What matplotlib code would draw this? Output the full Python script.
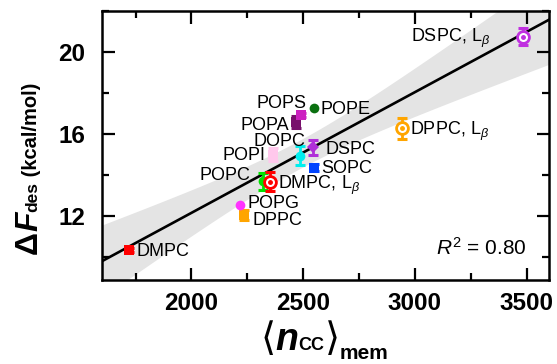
import numpy as np
import matplotlib
matplotlib.use('Agg')
import matplotlib.pyplot as plt
from matplotlib.ticker import MultipleLocator

plt.rcParams['font.family'] = ['Liberation Sans', 'DejaVu Sans']
plt.rcParams['mathtext.fontset'] = 'custom'
plt.rcParams['mathtext.rm'] = 'Liberation Sans'
plt.rcParams['mathtext.it'] = 'Liberation Sans:italic'
plt.rcParams['mathtext.bf'] = 'Liberation Sans:bold'
plt.rcParams['mathtext.bfit'] = 'Liberation Sans:bold:italic'

# data
lipids = ['DMPC', 'DPPC', 'POPG', 'POPC', r'DMPC, L$_\beta$', 'POPI', 'DOPC',
          'DSPC', 'SOPC', 'POPA', 'POPS', 'POPE', r'DPPC, L$_\beta$', r'DSPC, L$_\beta$']
ncc = [1722, 2237, 2217, 2322, 2352, 2364, 2486, 2545, 2550, 2468, 2490, 2548, 2944, 3485]
dfdes = [10.34, 12.05, 12.54, 13.68, 13.67, 14.99, 14.94, 15.34, 14.36, 16.57, 16.94, 17.27, 16.27, 20.74]
dfdes_err = [0.1, 0.25, 0.0, 0.42, 0.45, 0.3, 0.48, 0.38, 0.15, 0.3, 0.1, 0.0, 0.52, 0.42]
r2_text = r'$R^2$ = 0.80'

# style per point
colors = ['#ff0000', '#ffa500', '#ff33ff', '#00e000', '#ff0000', '#ffc8ec', '#00eeee',
          '#b030d8', '#0044ff', '#78106c', '#cc20c0', '#0a7010', '#ffa500', '#c030e0']
markers = ['s', 's', 'o', 'o', 'target', 's', 'o', 'D', 's', 's', 's', 'o', 'target', 'target']
# label offset in pixels (dx, dy of text centre), alignment
lab_off = [(7, 0, 'left'), (8, -4, 'left'), (8, 3, 'left'), (-13, 8, 'right'),
           (8, -1, 'left'), (-7, 1, 'right'), (-21, 16, 'center'), (12, 0, 'left'),
           (7, 1, 'left'), (-7, -1, 'right'), (6, 13, 'right'), (7, 0, 'left'),
           (8, 0, 'left'), (-33, 1, 'right')]

fig = plt.figure(figsize=(5.57, 3.64), dpi=100)
ax = fig.add_axes([102 / 557, 1 - 280 / 364, 447 / 557, 269 / 364])

# linear fit with 95% confidence band
x = np.array(ncc, dtype=float)
y = np.array(dfdes)
slope, icpt = np.polyfit(x, y, 1)
n = len(x)
res = y - (slope * x + icpt)
s = np.sqrt(np.sum(res ** 2) / (n - 2))
sxx = np.sum((x - x.mean()) ** 2)
t95 = 2.179
xs = np.linspace(1600, 3600, 300)
ys = slope * xs + icpt
hw = t95 * s * np.sqrt(1 / n + (xs - x.mean()) ** 2 / sxx)
ax.fill_between(xs, ys - hw, ys + hw, color='#e4e4e4', lw=0, zorder=1)
ax.plot(xs, ys, color='k', lw=1.9, zorder=2)

for i in range(n):
    c = colors[i]
    if dfdes_err[i] > 0:
        ax.errorbar(ncc[i], dfdes[i], yerr=dfdes_err[i], fmt='none', ecolor=c,
                    elinewidth=2, capsize=3.5, capthick=2.2, zorder=3)
    if markers[i] == 'target':
        ax.plot(ncc[i], dfdes[i], 'o', ms=8.5, mfc='white', mec=c, mew=2, zorder=4)
        ax.plot(ncc[i], dfdes[i], 'o', ms=2.5, color=c, zorder=5)
    else:
        ms = 6 if markers[i] == 'D' else 7
        ax.plot(ncc[i], dfdes[i], markers[i], ms=ms, color=c, mew=0, zorder=4)
    dx, dy, ha = lab_off[i]
    ax.annotate(lipids[i], xy=(ncc[i], dfdes[i]), xytext=(dx * 0.72, (dy - 6.5) * 0.72),
                textcoords='offset points', ha=ha, va='baseline', fontsize=13, zorder=6)

ax.text(0.951, 0.093, r2_text, transform=ax.transAxes, ha='right', va='baseline', fontsize=15)

ax.set_xlim(1600, 3600)
ax.set_ylim(8.87, 22)
ax.xaxis.set_major_locator(MultipleLocator(500))
ax.xaxis.set_minor_locator(MultipleLocator(250))
ax.yaxis.set_major_locator(MultipleLocator(4))
ax.yaxis.set_minor_locator(MultipleLocator(2))
ax.tick_params(which='both', direction='in', top=True, right=True, width=1.6)
ax.tick_params(which='major', length=9)
ax.tick_params(which='minor', length=5)
ax.tick_params(axis='x', which='major', pad=9, labelsize=17.5)
ax.tick_params(axis='y', which='major', pad=12, labelsize=17.5)
for lab in ax.get_xticklabels() + ax.get_yticklabels():
    lab.set_fontweight('bold')
for sp in ax.spines.values():
    sp.set_linewidth(1.8)

# x label pieces on one baseline
xb = -0.262
p0 = ax.text(0.355, xb, '\u27e8', transform=ax.transAxes, fontsize=28, family='DejaVu Sans',
             ha='left', va='baseline')
p1 = ax.annotate('n', xy=(1, xb), xycoords=(p0, 'axes fraction'), fontsize=27,
                 fontstyle='italic', fontweight='bold', ha='left', va='baseline')
p2 = ax.annotate('CC', xy=(1, xb), xycoords=(p1, 'axes fraction'), fontsize=13,
                 fontweight='bold', ha='left', va='baseline')
p3 = ax.annotate('\u27e9', xy=(1, xb), xycoords=(p2, 'axes fraction'), fontsize=28,
                 family='DejaVu Sans', ha='left', va='baseline')
p4 = ax.annotate('mem', xy=(1, xb - 0.03), xycoords=(p3, 'axes fraction'), fontsize=15,
                 fontweight='bold', ha='left', va='baseline')

# y label pieces on one baseline
yb = -0.1454
q0 = ax.text(yb, 0.095, '\u0394', transform=ax.transAxes, rotation=90, rotation_mode='anchor',
             ha='left', va='baseline', fontsize=23, fontweight='bold')
q1 = ax.annotate('F', xy=(yb, 1), xycoords=('axes fraction', q0), rotation=90,
                 rotation_mode='anchor', ha='left', va='baseline', fontsize=23,
                 fontweight='bold', fontstyle='italic')
q2 = ax.annotate('des', xy=(yb, 1), xycoords=('axes fraction', q1), rotation=90,
                 rotation_mode='anchor', ha='left', va='baseline', fontsize=12.5,
                 fontweight='bold')
q3 = ax.annotate(' (kcal/mol)', xy=(yb, 1), xycoords=('axes fraction', q2), rotation=90,
                 rotation_mode='anchor', ha='left', va='baseline', fontsize=14.5,
                 fontweight='bold')

fig.savefig('out.png', dpi=100)
